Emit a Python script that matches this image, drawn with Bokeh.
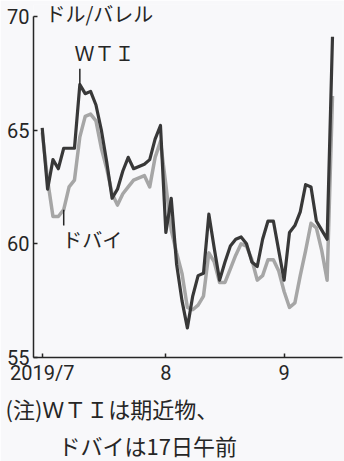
from bokeh.plotting import figure
from bokeh.models import Range1d, FixedTicker, Label, Title
from bokeh.embed import file_html
from bokeh.resources import INLINE

# trading-day index (2019/7/1 .. 9/17)
day_index = list(range(55))

wti = [65.1, 62.4, 63.7, 63.3, 64.2, 64.2, 64.2, 67.0, 66.6, 66.7,
       66.1, 65.0, 63.6, 62.0, 62.4, 63.2, 63.8, 63.3, 63.4, 63.5,
       63.7, 64.6, 65.2, 60.5, 62.0, 59.1, 57.5, 56.3, 57.7, 58.6,
       58.7, 61.3, 59.8, 58.4, 59.2, 59.9, 60.2, 60.3, 60.0, 59.2,
       59.0, 60.2, 61.0, 61.0, 59.7, 58.4, 60.5, 60.8, 61.4, 62.6,
       62.5, 61.0, 60.6, 60.2, 69.1]

dubai = [64.9, 62.8, 61.2, 61.2, 61.5, 62.5, 62.8, 64.7, 65.6, 65.7,
         65.4, 64.2, 63.3, 62.2, 61.7, 62.2, 62.5, 62.8, 62.9, 63.0,
         62.5, 63.8, 64.5, 62.6, 60.6, 59.6, 58.7, 57.2, 57.1, 57.3,
         57.7, 59.6, 59.2, 58.3, 58.3, 58.9, 59.5, 60.0, 59.9, 59.3,
         58.4, 58.6, 59.3, 59.3, 58.8, 57.9, 57.2, 57.4, 58.6, 59.7,
         60.9, 60.7, 59.7, 58.4, 66.5]

month_tick_pos = [0, 23, 45]
month_tick_labels = ["2019/7", "8", "9"]
y_ticks = [55, 60, 65, 70]

unit_label = "ドル/バレル"
wti_label = "ＷＴＩ"
dubai_label = "ドバイ"
note_line1 = "(注)ＷＴＩは期近物、"
note_line2 = "ドバイは17日午前"

BG = "#f8f8fa"
INK = "#262626"
JP = "Noto Sans CJK JP"
NUM = "Roboto"

p = figure(width=344, height=461, output_backend="svg", toolbar_location=None,
           x_range=Range1d(-1.62, 55.86), y_range=Range1d(55, 70.52),
           min_border_left=33, min_border_right=2, min_border_top=4,
           min_border_bottom=96)
p.background_fill_color = BG
p.border_fill_color = BG
p.outline_line_color = None
p.xgrid.grid_line_color = None
p.ygrid.grid_line_color = None

# axes
for ax in (p.xaxis, p.yaxis):
    ax.axis_line_color = INK
    ax.axis_line_width = 1.5
    ax.major_tick_line_color = INK
    ax.major_tick_line_width = 1.5
    ax.minor_tick_line_color = None
    ax.major_label_text_color = INK
    ax.major_label_text_font = NUM
    ax.major_label_text_font_size = "20px"

p.xaxis.ticker = FixedTicker(ticks=month_tick_pos)
p.xaxis.major_label_overrides = {t: l for t, l in zip(month_tick_pos, month_tick_labels)}
p.xaxis.major_tick_in = 4
p.xaxis.major_tick_out = 0
p.xaxis.major_label_standoff = 3

p.yaxis.ticker = FixedTicker(ticks=y_ticks)
p.yaxis.bounds = (y_ticks[0], y_ticks[-1])
p.yaxis.major_tick_in = 4
p.yaxis.major_tick_out = 0
p.yaxis.major_label_standoff = 4

# series
p.line(day_index, dubai, line_color="#a6a6a6", line_width=3.5, line_join="round")
p.line(day_index, wti, line_color="#383838", line_width=3.2, line_join="round")

# labels
wti_lab_x, wti_lab_y = 6.0, 68.4
dub_lab_x, dub_lab_y = 3.75, 60.2
unit_x, unit_y = 0.6, 70.12

wti_peak = max(range(12), key=lambda i: wti[i])
p.segment(x0=[wti_peak], y0=[wti[wti_peak]], x1=[wti_peak], y1=[wti_lab_y - 0.7],
          line_color=INK, line_width=1.5)
dub_low = 4
p.segment(x0=[dub_low], y0=[dubai[dub_low]], x1=[dub_low], y1=[dub_lab_y + 0.6],
          line_color=INK, line_width=1.5)

def add_label(x, y, text, size):
    p.add_layout(Label(x=x, y=y, text=text, text_font=JP, text_font_size=size,
                       text_color=INK, text_baseline="middle", text_align="left"))

add_label(unit_x, unit_y, unit_label, "20px")
add_label(wti_lab_x, wti_lab_y, wti_label, "20px")
add_label(dub_lab_x, dub_lab_y, dubai_label, "20px")

# footnote
p.add_layout(Title(text=note_line1, align="left", offset=-28, standoff=4,
                   text_font=JP, text_font_size="22px", text_font_style="normal",
                   text_color=INK), "below")
p.add_layout(Title(text=note_line2, align="left", offset=25, standoff=2,
                   text_font=JP, text_font_size="22px", text_font_style="normal",
                   text_color=INK), "below")

open("out.html", "w").write(file_html(p, INLINE))
